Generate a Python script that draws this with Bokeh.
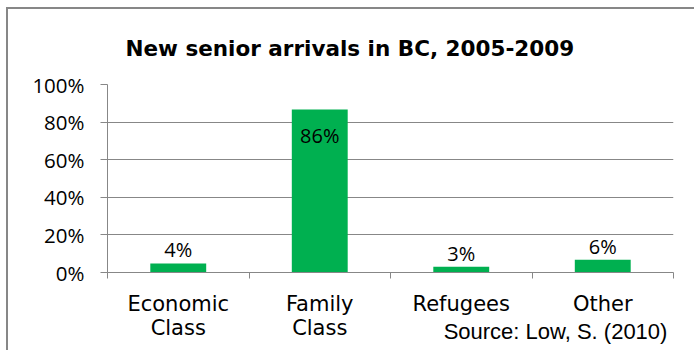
from bokeh.plotting import figure
from bokeh.models import (Range1d, FixedTicker, PrintfTickFormatter,
                          ColumnDataSource)
from bokeh.embed import file_html
from bokeh.resources import INLINE
from bokeh.core.properties import value

categories = ["Economic\nClass", "Family\nClass", "Refugees", "Other"]
shares = [4.8, 86.7, 3.1, 6.8]
share_labels = ["4%", "86%", "3%", "6%"]
y_ticks = [0, 20, 40, 60, 80, 100]
title_text = "New senior arrivals in BC, 2005-2009"
source_text = "Source: Low, S. (2010)"

GRAY = "#878787"
GREEN = "#00B050"
NUM_FONT = "Open Sans"

centers = [i + 0.5 for i in range(len(categories))]
bounds = list(range(len(categories) + 1))

p = figure(width=688, height=343, output_backend="svg", toolbar_location=None,
           x_range=Range1d(0, len(categories)), y_range=Range1d(0, 100),
           min_border_left=99, min_border_right=23, min_border_top=74,
           min_border_bottom=80)
p.styles = {"margin-left": "6px", "margin-top": "7px",
            "border-left": "2px solid " + GRAY, "border-top": "2px solid " + GRAY}
p.outline_line_color = None
p.background_fill_color = "white"
p.border_fill_color = "white"

p.title.text = title_text
p.title.align = "left"
p.title.offset = 18
p.title.standoff = 48
p.title.text_font = "DejaVu Sans"
p.title.text_font_style = "bold"
p.title.text_font_size = "21.5px"
p.title.text_color = "black"

src = ColumnDataSource(dict(x=centers, top=shares, lab=share_labels))
p.vbar(x="x", top="top", width=0.395, source=src, fill_color=GREEN,
       line_color=None)

above = ColumnDataSource(dict(
    x=[c for c, v in zip(centers, shares) if v < 50],
    y=[v for v in shares if v < 50],
    lab=[l for l, v in zip(share_labels, shares) if v < 50]))
inside = ColumnDataSource(dict(
    x=[c for c, v in zip(centers, shares) if v >= 50],
    y=[v for v in shares if v >= 50],
    lab=[l for l, v in zip(share_labels, shares) if v >= 50]))
p.text(x="x", y="y", text="lab", source=above, text_align="center",
       text_baseline="bottom", y_offset=0, text_font=value(NUM_FONT),
       text_font_size="20px", text_color="black")
p.text(x="x", y="y", text="lab", source=inside, text_align="center",
       text_baseline="middle", y_offset=26, text_font=value(NUM_FONT),
       text_font_size="20px", text_color="black")

p.yaxis.ticker = FixedTicker(ticks=y_ticks)
p.yaxis.formatter = PrintfTickFormatter(format="%d%%")
p.yaxis.axis_line_color = GRAY
p.yaxis.major_tick_line_color = GRAY
p.yaxis.major_tick_out = 7
p.yaxis.major_tick_in = 0
p.yaxis.minor_tick_line_color = None
p.yaxis.major_label_standoff = 16
p.yaxis.major_label_text_font = NUM_FONT
p.yaxis.major_label_text_font_size = "20.5px"
p.yaxis.major_label_text_color = "black"

p.xaxis.ticker = FixedTicker(ticks=centers, minor_ticks=bounds)
p.xaxis.major_label_overrides = {c: n for c, n in zip(centers, categories)}
p.xaxis.axis_line_color = GRAY
p.xaxis.major_tick_line_color = None
p.xaxis.minor_tick_line_color = GRAY
p.xaxis.minor_tick_out = 6
p.xaxis.minor_tick_in = 0
p.xaxis.major_label_standoff = 13
p.xaxis.major_label_text_font = "DejaVu Sans"
p.xaxis.major_label_text_font_size = "21px"
p.xaxis.major_label_text_color = "black"
p.xaxis.major_label_text_line_height = 1.0

# source note, shown at the right end of the x-axis label row
p.xaxis.axis_label = "\u00a0" * 54 + source_text
p.xaxis.axis_label_align = "center"
p.xaxis.axis_label_standoff = -24
p.xaxis.axis_label_text_font = "Liberation Sans"
p.xaxis.axis_label_text_font_style = "normal"
p.xaxis.axis_label_text_font_size = "22px"
p.xaxis.axis_label_text_color = "black"

p.xgrid.grid_line_color = None
p.ygrid.grid_line_color = GRAY
p.ygrid.grid_line_width = 1

open("out.html", "w").write(file_html(p, INLINE))
